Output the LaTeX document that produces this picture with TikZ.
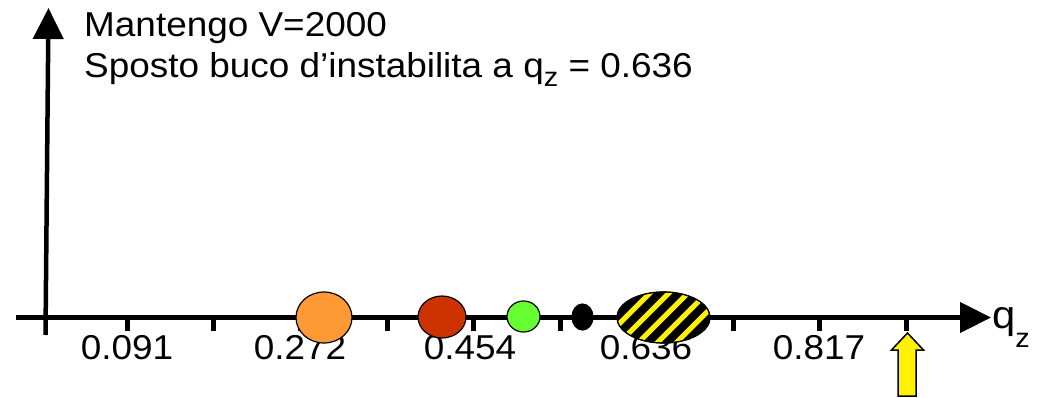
\documentclass[tikz,border=0pt]{standalone}
\usepackage{fontspec}
\setmainfont{Liberation Sans}[FakeStretch=1.07]
\usetikzlibrary{arrows.meta,shapes.geometric}
\definecolor{orangec}{RGB}{255,153,51}
\definecolor{redc}{RGB}{204,51,0}
\definecolor{greenc}{RGB}{102,255,51}
\begin{document}
\begin{tikzpicture}[x=1pt,y=-1pt,
 axis/.style={line width=4.5pt, -{Triangle[length=31pt,width=30pt]}},
 tickmark/.style={line width=5pt},
 dot/.style={ellipse, draw=black, line width=1.2pt, inner sep=0pt},
 ticklabel/.style={font=\fontsize{34.5}{40}\selectfont, anchor=base, inner sep=0pt},
 titletext/.style={font=\fontsize{34.5}{40}\selectfont, anchor=base west, inner sep=0pt},
 stripe/.style={yellow, line width=5pt}]
\useasboundingbox (0,0) rectangle (1039,398);
% axes
\coordinate (hstart) at (16,317.5);
\coordinate (hend) at (991,317.5);
\coordinate (vbot) at (45.5,335);
\coordinate (vtop) at (48.5,8);
\draw[axis] (hstart) -- (hend);
\draw[axis] (vbot) -- (vtop);
% ticks
\foreach \x in {127,213,300,387,473,560,646,733,819,906}
  \draw[tickmark] (\x,317.5) -- (\x,331);
% tick labels
\node[ticklabel] (l1) at (127,359) {0.091};
\node[ticklabel] (l2) at (300,359) {0.272};
\node[ticklabel] (l3) at (470,359) {0.454};
\node[ticklabel] (l4) at (646,359) {0.636};
\node[ticklabel] (l5) at (819,359) {0.817};
% axis label
\node[anchor=base west, inner sep=0pt, font=\fontsize{39}{44}\selectfont] (qz) at (992,328)
  {q\raisebox{-19pt}{\fontsize{27}{30}\selectfont z}};
% title
\node[titletext] (t1) at (84,37) {Mantengo V=2000};
\node[titletext] (t2) at (84,78) {Sposto buco d’instabilita a q\raisebox{-9pt}{\fontsize{27}{30}\selectfont z} = 0.636};
% dots
\node[dot, fill=orangec, minimum width=56pt, minimum height=51pt] (c1) at (324,317.5) {};
\node[dot, fill=redc, minimum width=48pt, minimum height=42pt] (c2) at (442,317) {};
\node[dot, fill=greenc, minimum width=33pt, minimum height=31pt] (c3) at (523.5,316.5) {};
\node[dot, fill=black, minimum width=21pt, minimum height=26pt] (c4) at (582.5,317) {};
\node[dot, fill=black, minimum width=93pt, minimum height=51pt] (hole) at (663.5,317.5) {};
\begin{scope}
  \clip (hole.center) ellipse [x radius=46pt, y radius=25pt];
  \foreach \d in {-57,-38,-19,0,19,38,57}
    \draw[stripe] ([xshift=\d pt]hole.center) ++(-40,40) -- ++(80,-80);
\end{scope}
\draw[line width=1.2pt] (hole.center) ellipse [x radius=46.5pt, y radius=25.5pt];
% yellow arrow
\draw[fill=yellow, line width=1.5pt, line join=miter]
  (898,396) -- (898,350) -- (891.5,350) -- (907.5,333) -- (923.5,350) -- (916,350) -- (916,396) -- cycle;
\end{tikzpicture}
\end{document}
